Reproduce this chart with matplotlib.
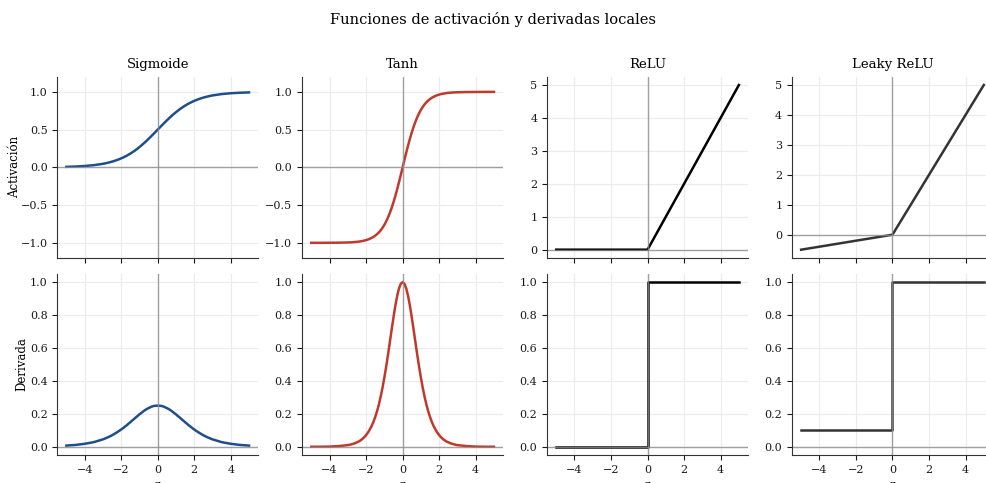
import numpy as np
import matplotlib.pyplot as plt

plt.rcParams['font.family'] = 'DejaVu Serif'

# puntos de z: paso 0.5 en las colas, 0.1 en el centro
z = np.array([-5.0, -4.5, -4.0, -3.5,
              -3.0, -2.9, -2.8, -2.7, -2.6, -2.5, -2.4, -2.3, -2.2, -2.1,
              -2.0, -1.9, -1.8, -1.7, -1.6, -1.5, -1.4, -1.3, -1.2, -1.1,
              -1.0, -0.9, -0.8, -0.7, -0.6, -0.5, -0.4, -0.3, -0.2, -0.1,
              0.0,
              0.1, 0.2, 0.3, 0.4, 0.5, 0.6, 0.7, 0.8, 0.9, 1.0,
              1.1, 1.2, 1.3, 1.4, 1.5, 1.6, 1.7, 1.8, 1.9, 2.0,
              2.1, 2.2, 2.3, 2.4, 2.5, 2.6, 2.7, 2.8, 2.9, 3.0,
              3.5, 4.0, 4.5, 5.0])

sigmoide = [0.007, 0.011, 0.018, 0.029,
            0.047, 0.052, 0.057, 0.063, 0.069, 0.076, 0.083, 0.091, 0.100, 0.109,
            0.119, 0.130, 0.142, 0.154, 0.168, 0.182, 0.198, 0.214, 0.231, 0.250,
            0.269, 0.289, 0.310, 0.332, 0.354, 0.378, 0.401, 0.426, 0.450, 0.475,
            0.500,
            0.525, 0.550, 0.574, 0.599, 0.622, 0.646, 0.668, 0.690, 0.711, 0.731,
            0.750, 0.769, 0.786, 0.802, 0.818, 0.832, 0.846, 0.858, 0.870, 0.881,
            0.891, 0.900, 0.909, 0.917, 0.924, 0.931, 0.937, 0.943, 0.948, 0.953,
            0.971, 0.982, 0.989, 0.993]
d_sigmoide = [0.007, 0.011, 0.018, 0.028,
              0.045, 0.049, 0.054, 0.059, 0.064, 0.070, 0.076, 0.083, 0.090, 0.097,
              0.105, 0.113, 0.122, 0.130, 0.140, 0.149, 0.159, 0.168, 0.178, 0.187,
              0.197, 0.205, 0.214, 0.222, 0.229, 0.235, 0.240, 0.245, 0.248, 0.249,
              0.250,
              0.249, 0.248, 0.245, 0.240, 0.235, 0.229, 0.222, 0.214, 0.205, 0.197,
              0.187, 0.178, 0.168, 0.159, 0.149, 0.140, 0.130, 0.122, 0.113, 0.105,
              0.097, 0.090, 0.083, 0.076, 0.070, 0.064, 0.059, 0.054, 0.049, 0.045,
              0.028, 0.018, 0.011, 0.007]
tanh = [-1.000, -1.000, -0.999, -0.998,
        -0.995, -0.994, -0.993, -0.991, -0.989, -0.987, -0.984, -0.980, -0.976, -0.971,
        -0.964, -0.956, -0.947, -0.935, -0.922, -0.905, -0.885, -0.862, -0.834, -0.800,
        -0.762, -0.716, -0.664, -0.604, -0.537, -0.462, -0.380, -0.291, -0.197, -0.100,
        0.000,
        0.100, 0.197, 0.291, 0.380, 0.462, 0.537, 0.604, 0.664, 0.716, 0.762,
        0.800, 0.834, 0.862, 0.885, 0.905, 0.922, 0.935, 0.947, 0.956, 0.964,
        0.971, 0.976, 0.980, 0.984, 0.987, 0.989, 0.991, 0.993, 0.994, 0.995,
        0.998, 0.999, 1.000, 1.000]
d_tanh = [0.000, 0.000, 0.001, 0.004,
          0.010, 0.012, 0.015, 0.018, 0.022, 0.027, 0.032, 0.039, 0.048, 0.058,
          0.071, 0.086, 0.104, 0.125, 0.150, 0.181, 0.216, 0.257, 0.305, 0.359,
          0.420, 0.487, 0.559, 0.635, 0.712, 0.786, 0.856, 0.915, 0.961, 0.990,
          1.000,
          0.990, 0.961, 0.915, 0.856, 0.786, 0.712, 0.635, 0.559, 0.487, 0.420,
          0.359, 0.305, 0.257, 0.216, 0.181, 0.150, 0.125, 0.104, 0.086, 0.071,
          0.058, 0.048, 0.039, 0.032, 0.027, 0.022, 0.018, 0.015, 0.012, 0.010,
          0.004, 0.001, 0.000, 0.000]

# ReLU y Leaky ReLU son lineales por tramos
z_tramos = [-5, 0, 5]
relu = [0, 0, 5]
leaky = [-0.5, 0, 5]
z_escalon = [-5, 0, 0, 5]
d_relu = [0, 0, 1, 1]
d_leaky = [0.1, 0.1, 1, 1]

titulos = ["Sigmoide", "Tanh", "ReLU", "Leaky ReLU"]
colores = ["#1f4e8c", "#c0392b", "#000000", "#333333"]

fig, axes = plt.subplots(2, 4, figsize=(9.87, 4.83), dpi=100, sharex='col')
fig.subplots_adjust(left=0.058, right=1.006, top=0.841, bottom=0.058,
                    wspace=0.219, hspace=0.088)

arriba = [(z, sigmoide), (z, tanh), (z_tramos, relu), (z_tramos, leaky)]
abajo = [(z, d_sigmoide), (z, d_tanh), (z_escalon, d_relu), (z_escalon, d_leaky)]

for j in range(4):
    ax1, ax2 = axes[0, j], axes[1, j]
    ax1.plot(*arriba[j], color=colores[j], lw=1.8)
    ax2.plot(*abajo[j], color=colores[j], lw=1.8)
    ax1.set_title(titulos[j], fontsize=9.5)
    for ax in (ax1, ax2):
        ax.axhline(0, color='0.55', lw=1, alpha=0.8)
        ax.axvline(0, color='0.55', lw=1, alpha=0.8)
        ax.grid(True, color='0.92', lw=0.8)
        ax.set_axisbelow(True)
        ax.spines['top'].set_visible(False)
        ax.spines['right'].set_visible(False)
        ax.spines['left'].set_color('0.2')
        ax.spines['bottom'].set_color('0.2')
        ax.tick_params(labelsize=8, colors='0.1', length=3.5)
        ax.set_xlim(-5.5, 5.5)
        ax.set_xticks([-4, -2, 0, 2, 4])
    ax2.set_ylim(-0.05, 1.05)
    ax2.set_xlabel("z", fontsize=8)
    if j < 2:
        ax1.set_ylim(-1.2, 1.2)
        ax1.set_yticks([-1.0, -0.5, 0.0, 0.5, 1.0])

axes[0, 0].set_ylabel("Activación", fontsize=8.5)
axes[1, 0].set_ylabel("Derivada", fontsize=8.5)
axes[0, 0].yaxis.set_label_coords(-0.18, 0.5)
axes[1, 0].yaxis.set_label_coords(-0.145, 0.5)

fig.suptitle("Funciones de activación y derivadas locales", fontsize=10.5, y=0.975)

plt.savefig("out.png", dpi=100)
